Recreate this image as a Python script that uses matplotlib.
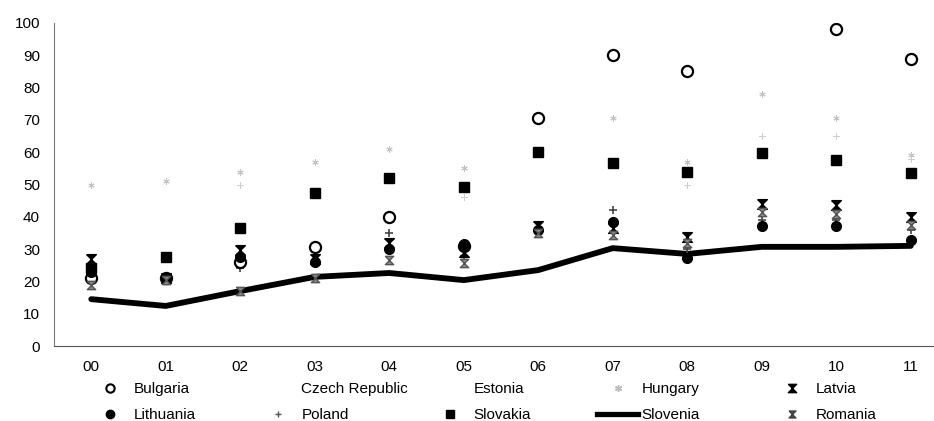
import matplotlib
matplotlib.use("Agg")
import matplotlib.pyplot as plt
import numpy as np
from matplotlib.lines import Line2D

plt.rcParams['font.family'] = ['Liberation Sans', 'DejaVu Sans']

years = ['00', '01', '02', '03', '04', '05', '06', '07', '08', '09', '10', '11']
nan = np.nan

# values
bulgaria  = [21, 21, 26, 30.7, 40, 31, 70.5, 90, 85, nan, 98, 89]
czech     = [nan, nan, 50, nan, nan, 46, nan, nan, 50, 65, 65, 58]
hungary   = [50, 51, 54, 57, 61, 55, nan, 70.5, 57, 78, 70.5, 59]
latvia    = [27, 21, 29.7, 27, 32, 29, 37, 36.5, 33.7, 44, 43.6, 40]
lithuania = [23, 21, 27.6, 26, 30, 31.5, 36, 38.4, 27.2, 37.3, 37.3, 32.7]
poland    = [21, 21, 24, 26, 35, 28, 36, 42, 30, 39, 39, 36]
slovakia  = [24, 27.6, 36.5, 47.4, 51.9, 49.3, 60, 56.7, 54, 59.8, 57.6, 53.5]
slovenia  = [14.5, 12.4, 17, 21.4, 22.6, 20.4, 23.5, 30.3, 28.5, 30.7, 30.7, 31]
romania   = [18.9, 20.5, 17, 21, 26.6, 25.7, 35, 34.4, 32, 41.5, 41, 37.5]

x = np.arange(len(years))
hourglass = [(-1, 1), (1, 1), (-1, -1), (1, -1), (-1, 1)]

fig = plt.figure(figsize=(9.34, 4.21), dpi=100)
ax = fig.add_axes([54 / 934, 75 / 421, 894 / 934, 323 / 421])

ax.plot(x, slovenia, color='black', lw=4.2, solid_capstyle='round', zorder=2)
ax.plot(x, czech, ls='none', marker=(4, 2, 0), ms=4, color='#cdcdcd', mew=0.7, zorder=3)
ax.plot(x, hungary, ls='none', marker=(6, 2, 0), ms=4.5, color='#c2c2c2', mew=0.7, zorder=3)
ax.plot(x, slovakia, ls='none', marker='s', ms=7.5, color='black', zorder=3)
ax.plot(x, poland, ls='none', marker='+', ms=6, color='#444444', mew=1.2, zorder=4)
ax.plot(x, bulgaria, ls='none', marker='o', ms=8, mfc='white', mec='black', mew=1.6, zorder=4)
ax.plot(x, lithuania, ls='none', marker='o', ms=7, color='black', zorder=5)
ax.plot(x, latvia, ls='none', marker=hourglass, ms=7, color='black', zorder=6)
ax.plot(x, romania, ls='none', marker=hourglass, ms=6, color='#555555', mfc='#888888', zorder=6)

ax.set_xlim(-0.5, len(years) - 0.5)
ax.set_ylim(0, 100)
ax.set_yticks(np.arange(0, 101, 10))
ax.set_xticks(x)
ax.set_xticklabels(years)
ax.tick_params(axis='y', length=0, pad=10, labelsize=11)
ax.tick_params(axis='x', length=0, pad=10, labelsize=11)
for s in ['top', 'right']:
    ax.spines[s].set_visible(False)
ax.spines['left'].set_color('#777777')
ax.spines['left'].set_linewidth(0.8)
ax.spines['bottom'].set_color('#555555')
ax.spines['bottom'].set_linewidth(0.8)

# legend, Excel-like fixed column widths
def h(**kw):
    return Line2D([], [], ls='none', **kw)

columns = [
    (89, [(h(marker='o', ms=6, mfc='white', mec='black', mew=1.5), 'Bulgaria'),
          (h(marker='o', ms=6, color='black'), 'Lithuania')]),
    (257, [(h(marker='none'), 'Czech Republic'),
           (h(marker='+', ms=5, color='#555555'), 'Poland')]),
    (429, [(h(marker='none'), 'Estonia'),
           (h(marker='s', ms=6, color='black'), 'Slovakia')]),
    (597, [(h(marker=(6, 2, 0), ms=5, color='#bbbbbb'), 'Hungary'),
           (Line2D([], [], color='black', lw=3.8), 'Slovenia')]),
    (771, [(h(marker=hourglass, ms=6, color='black'), 'Latvia'),
           (h(marker=hourglass, ms=5, color='#444444'), 'Romania')]),
]
for x0, items in columns:
    fig.legend([i[0] for i in items], [i[1] for i in items],
               loc='upper left', bbox_to_anchor=(x0 / 934, 39 / 421),
               frameon=False, fontsize=11, handlelength=2.7, handletextpad=0.2,
               labelspacing=0.8, borderpad=0, borderaxespad=0)

fig.savefig('out.png', dpi=100)
